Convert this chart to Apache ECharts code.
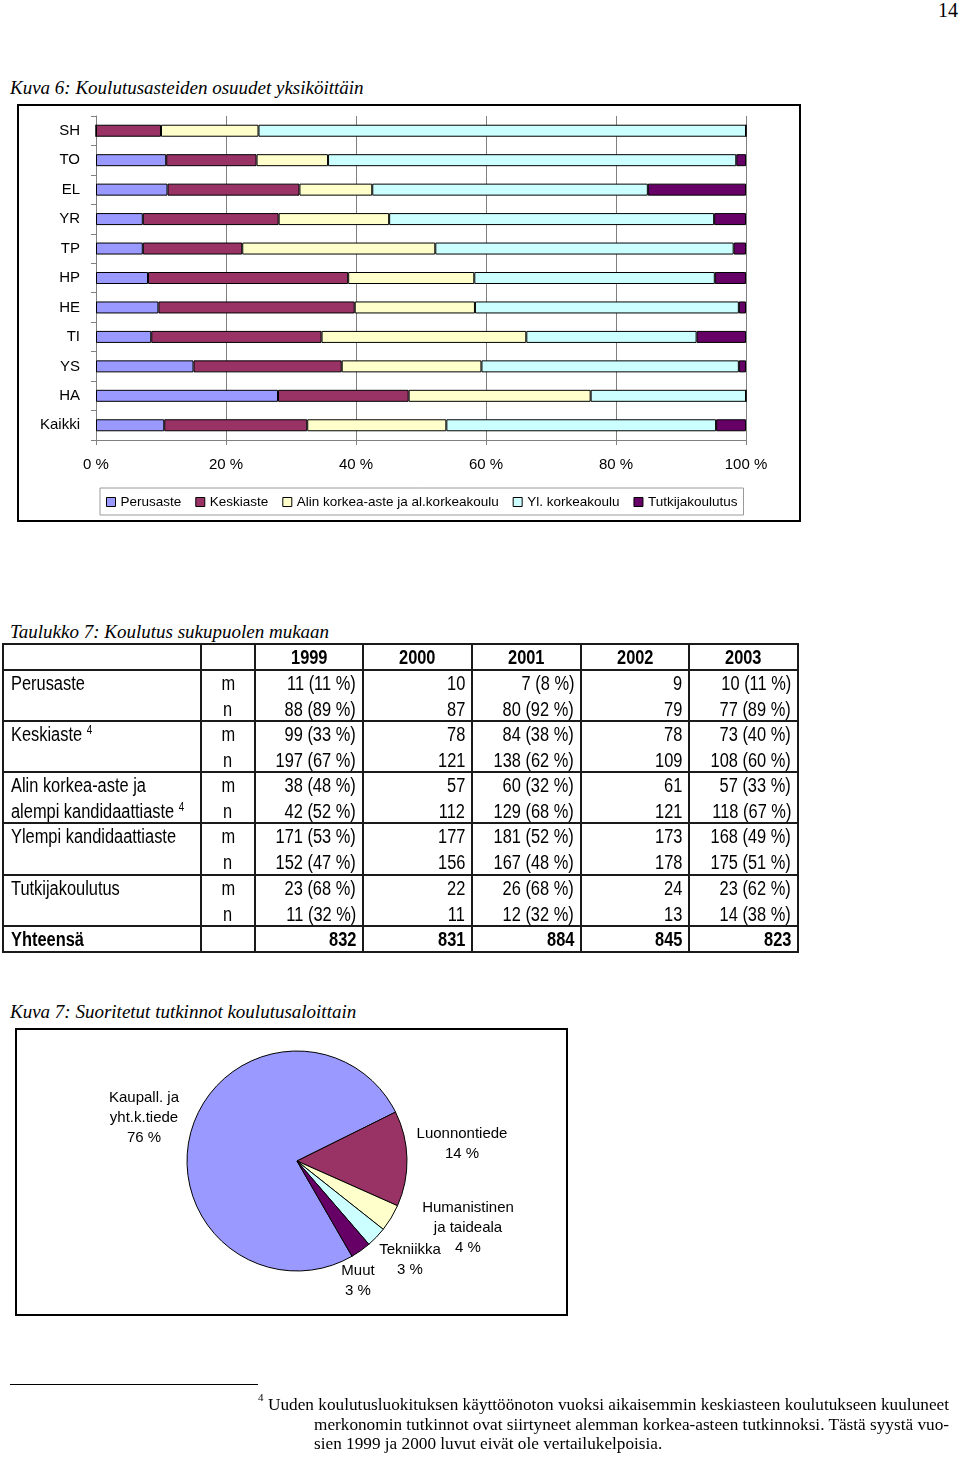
<!DOCTYPE html>
<html>
<head>
<meta charset="utf-8">
<script src="https://cdn.jsdelivr.net/npm/echarts@6/dist/echarts.min.js"></script>
<style>
html,body{margin:0;padding:0;background:#fff;}
body{width:960px;height:1457px;position:relative;overflow:hidden;}
.abs{position:absolute;white-space:nowrap;}
.serif{font-family:"Liberation Serif","Times New Roman",serif;color:#000;}
.cap{font-style:italic;font-size:19px;line-height:20px;}
.box{position:absolute;box-sizing:border-box;border:2px solid #000;}
.chart{position:absolute;left:0;top:0;right:0;bottom:0;}
.tcell{position:absolute;height:25px;line-height:25px;white-space:nowrap;font-size:20px;color:#000;font-family:"Liberation Sans Narrow","Arial Narrow",sans-serif;}
.tcell sup{font-size:12px;vertical-align:top;line-height:16px;position:relative;top:0px;}
.line{position:absolute;background:#1a1a1a;}
.fn{font-size:17px;line-height:20px;transform-origin:0 50%;display:inline-block;}
</style>
</head>
<body>

<!-- Page number and captions -->
<div class="abs serif" style="left:938px;top:0px;font-size:20px;line-height:20px;">14</div>
<div class="abs serif cap" style="left:10px;top:78px;">Kuva 6: Koulutusasteiden osuudet yksiköittäin</div>
<div class="abs serif cap" style="left:10px;top:622px;">Taulukko 7: Koulutus sukupuolen mukaan</div>
<div class="abs serif cap" style="left:10px;top:1002px;">Kuva 7: Suoritetut tutkinnot koulutusaloittain</div>

<!-- Chart 1 -->
<div class="box" style="left:17px;top:104px;width:784px;height:418px;"><div id="bar" class="chart"></div></div>

<!-- Table -->
<div id="tbl" class="abs" style="left:0;top:0;width:960px;height:1457px;"></div>

<!-- Chart 2 -->
<div class="box" style="left:15px;top:1028px;width:553px;height:288px;"><div id="pie" class="chart"></div></div>

<!-- Footnote -->
<div class="abs" style="left:10px;top:1384px;width:248px;height:1px;background:#000;"></div>
<div class="abs serif" style="left:258px;top:1391px;font-size:11px;line-height:12px;">4</div>
<div class="abs serif" style="left:268px;top:1395px;"><span id="fn1" class="fn">Uuden koulutusluokituksen käyttöönoton vuoksi aikaisemmin keskiasteen koulutukseen kuuluneet</span></div>
<div class="abs serif" style="left:314px;top:1415px;"><span id="fn2" class="fn">merkonomin tutkinnot ovat siirtyneet alemman korkea-asteen tutkinnoksi. Tästä syystä vuo-</span></div>
<div class="abs serif" style="left:314px;top:1434px;"><span id="fn3" class="fn">sien 1999 ja 2000 luvut eivät ole vertailukelpoisia.</span></div>

<script>
// ---------------- Data: Kuva 6 (100 % stacked bars) ----------------
const categories = ['SH','TO','EL','YR','TP','HP','HE','TI','YS','HA','Kaikki'];
const seriesNames = ['Perusaste','Keskiaste','Alin korkea-aste ja al.korkeakoulu','Yl. korkeakoulu','Tutkijakoulutus'];
const perusaste   = [0, 10.8, 11.0,  7.2,  7.2,  8.0,  9.6,  8.5, 15.0, 28.0, 10.5];
const keskiaste   = [10, 13.9, 20.3, 20.9, 15.3, 30.8, 30.2, 26.2, 22.8, 20.1, 22.0];
const alinKorkea  = [15, 11.0, 11.2, 17.0, 29.7, 19.4, 18.5, 31.5, 21.5, 28.0, 21.4];
const ylKorkea    = [75, 62.8, 42.4, 50.0, 45.9, 37.0, 40.6, 26.2, 39.6, 23.9, 41.5];
const tutkija     = [0,  1.5, 15.1,  4.9,  1.9,  4.8,  1.1,  7.6,  1.1,  0.0,  4.6];
const barColors = ['#9999FF','#993366','#FFFFCC','#CCFFFF','#660066'];

// ---------------- Data: Taulukko 7 ----------------
const tableYears = ['1999','2000','2001','2002','2003'];
const groupLabelLines = [['Perusaste'],['Keskiaste'],['Alin korkea-aste ja','alempi kandidaattiaste'],['Ylempi kandidaattiaste'],['Tutkijakoulutus']];
const groupFootnote = [false,true,true,false,false];
const menCounts   = [[11,10,7,9,10],[99,78,84,78,73],[38,57,60,61,57],[171,177,181,173,168],[23,22,26,24,23]];
const menPct      = [[11,null,8,null,11],[33,null,38,null,40],[48,null,32,null,33],[53,null,52,null,49],[68,null,68,null,62]];
const womenCounts = [[88,87,80,79,77],[197,121,138,109,108],[42,112,129,121,118],[152,156,167,178,175],[11,11,12,13,14]];
const womenPct    = [[89,null,92,null,89],[67,null,62,null,60],[52,null,68,null,67],[47,null,48,null,51],[32,null,32,null,38]];
const totals = [832,831,884,845,823];
const totalLabel = 'Yhteensä';

// ---------------- Data: Kuva 7 (pie) ----------------
const pieNames  = ['Kaupall. ja\nyht.k.tiede','Luonnontiede','Humanistinen\nja taideala','Tekniikka','Muut'];
const pieValues = [76,14,4,3,3];
const pieColors = ['#9999FF','#993366','#FFFFCC','#CCFFFF','#660066'];

const FONT = '"Liberation Sans", Arial, sans-serif';

// ---------------- Chart 1 ----------------
const barData = [perusaste,keskiaste,alinKorkea,ylKorkea,tutkija];
const bar = echarts.init(document.getElementById('bar'), null, {renderer:'canvas'});
bar.setOption({
  animation:false,
  textStyle:{fontFamily:FONT},
  grid:{left:77,top:10,width:650,height:324,outerBoundsMode:'none'},
  legend:{
    data:seriesNames, left:81, top:382, icon:'rect', itemWidth:9, itemHeight:9, itemGap:14,
    padding:[7,6,6,6], borderColor:'#9a9a9a', borderWidth:1,
    textStyle:{fontSize:13.5,color:'#000',fontFamily:FONT},
    itemStyle:{borderColor:'#000',borderWidth:1}
  },
  xAxis:{
    type:'value', min:0, max:100, interval:20,
    axisLabel:{formatter:'{value} %', fontSize:15, color:'#000', margin:17, fontFamily:FONT},
    axisLine:{show:true,lineStyle:{color:'#808080'}},
    axisTick:{show:true,length:5,lineStyle:{color:'#808080'}},
    splitLine:{show:true,lineStyle:{color:'#808080',width:1}}
  },
  yAxis:{
    type:'category', inverse:true, data:categories,
    axisLabel:{fontSize:15,color:'#000',margin:16,fontFamily:FONT},
    axisLine:{show:true,lineStyle:{color:'#808080'}},
    axisTick:{show:true,length:5,lineStyle:{color:'#808080'}},
    splitLine:{show:false}
  },
  series: seriesNames.map((n,i)=>({
    name:n, type:'bar', stack:'total', barWidth:12, data:barData[i],
    itemStyle:{color:barColors[i],borderColor:'#000',borderWidth:1},
    emphasis:{disabled:true}
  }))
});

// ---------------- Chart 2 ----------------
const pieLabelPos = [[127,88],[445,114],[451,198],[393,230],[341,251]];
const pie = echarts.init(document.getElementById('pie'), null, {renderer:'canvas'});
pie.setOption({
  animation:false,
  textStyle:{fontFamily:FONT},
  series:[{
    type:'pie', center:[280,131], radius:110, startAngle:300, clockwise:true,
    avoidLabelOverlap:false,
    data: pieNames.map((n,i)=>({name:n,value:pieValues[i],itemStyle:{color:pieColors[i]}})),
    itemStyle:{borderColor:'#000',borderWidth:1},
    label:{show:true, formatter:p=>p.name+'\n'+p.value+' %', fontSize:15, lineHeight:20, color:'#000', align:'center', fontFamily:FONT},
    labelLine:{show:false},
    labelLayout:p=>({x:pieLabelPos[p.dataIndex][0], y:pieLabelPos[p.dataIndex][1], align:'center', verticalAlign:'middle'}),
    emphasis:{disabled:true}
  }]
});

// ---------------- Table rendering ----------------
function hasFont(name){
  const c=document.createElement('canvas').getContext('2d');
  const s='Ylempi kandidaattiaste 1234567890';
  c.font='20px monospace'; const w0=c.measureText(s).width;
  c.font='20px "'+name+'", monospace'; const w1=c.measureText(s).width;
  return Math.abs(w1-w0)>0.5;
}
const narrow = hasFont('Liberation Sans Narrow') || hasFont('Arial Narrow');
const tbl = document.getElementById('tbl');
const colX = [3,201,255,363,472,581,689,798];
const rowY = [644,670,721,772,823,875,926,952];
function line(l,t,w,h){const d=document.createElement('div');d.className='line';d.style.cssText+=`left:${l}px;top:${t}px;width:${w}px;height:${h}px;`;tbl.appendChild(d);}
rowY.forEach(y=>line(colX[0]-1,y-1,colX[colX.length-1]-colX[0]+2,2));
colX.forEach(x=>line(x-1,rowY[0]-1,2,rowY[rowY.length-1]-rowY[0]+2));

function cell(c,centerY,html,align,bold){
  const d=document.createElement('div');d.className='tcell';
  const l=colX[c], w=colX[c+1]-colX[c];
  d.style.left=l+'px'; d.style.width=w+'px'; d.style.top=(centerY-12.5)+'px';
  d.style.textAlign=align; if(bold) d.style.fontWeight='bold';
  if(align==='right') d.style.paddingRight='7px';
  if(align==='left') d.style.paddingLeft='8px';
  d.style.boxSizing='border-box';
  const s=document.createElement('span'); s.innerHTML=html; s.style.display='inline-block';
  if(!narrow){ s.style.fontFamily=FONT; s.style.transform='scaleX(0.82)';
    s.style.transformOrigin = align==='right'?'100% 50%':(align==='left'?'0 50%':'50% 50%'); }
  d.appendChild(s); tbl.appendChild(d);
}
// header
tableYears.forEach((y,j)=>cell(j+2,657,y,'center',true));
// groups
groupLabelLines.forEach((lines,g)=>{
  const top=rowY[g+1];
  const cm=top+13.5, cn=top+39;
  lines.forEach((t,i)=>{
    const last = i===lines.length-1;
    cell(0, cm+i*25.5, t+(last&&groupFootnote[g]?' <sup>4</sup>':''), 'left', false);
  });
  cell(1,cm,'m','center',false); cell(1,cn,'n','center',false);
  tableYears.forEach((y,j)=>{
    const mt = menCounts[g][j] + (menPct[g][j]!=null?` (${menPct[g][j]} %)`:'');
    const nt = womenCounts[g][j] + (womenPct[g][j]!=null?` (${womenPct[g][j]} %)`:'');
    cell(j+2,cm,mt,'right',false); cell(j+2,cn,nt,'right',false);
  });
});
cell(0,939.5,totalLabel,'left',true);
totals.forEach((t,j)=>cell(j+2,939.5,String(t),'right',true));

// ---------------- Footnote fitting ----------------
function fit(id,target){const e=document.getElementById(id);const w=e.getBoundingClientRect().width;const k=target/w;e.style.transform='scaleX('+k+')';return k;}
const k1=fit('fn1',681);
const k2=fit('fn2',635);
document.getElementById('fn3').style.transform='scaleX('+k2+')';
</script>
</body>
</html>
